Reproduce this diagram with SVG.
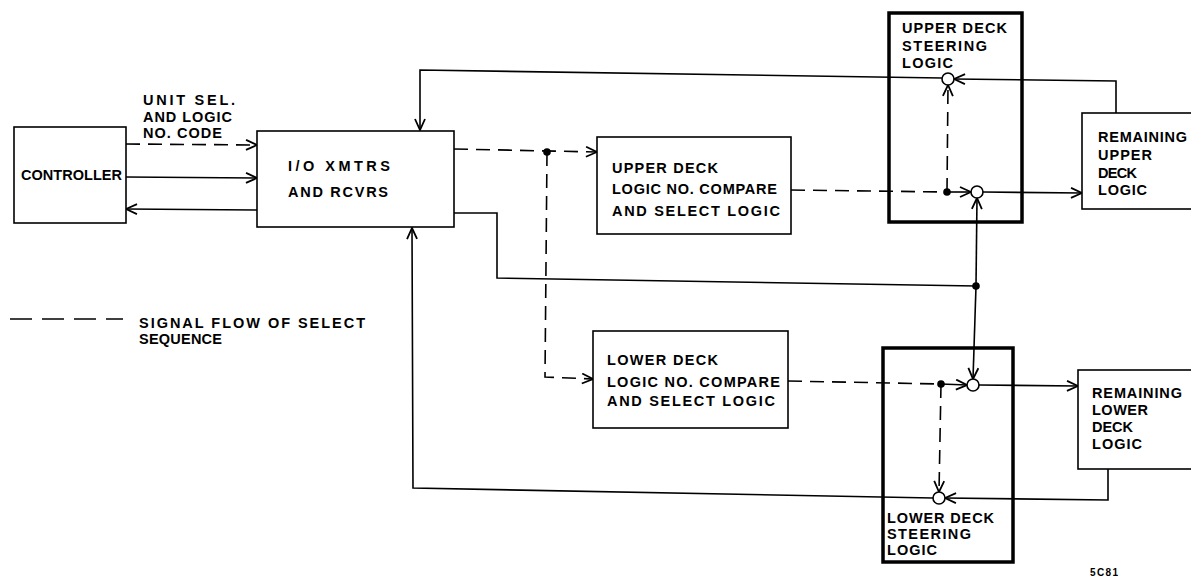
<svg xmlns="http://www.w3.org/2000/svg" width="1191" height="579" viewBox="0 0 1191 579">
<style>
.box{fill:#fff;stroke:#000;stroke-width:1.6}
.thick{fill:none;stroke:#000;stroke-width:3.5}
.ln{fill:none;stroke:#000;stroke-width:1.6}
.dash{fill:none;stroke:#000;stroke-width:1.6;stroke-dasharray:14 8}
.arr{marker-end:url(#ah)}
.dot{fill:#000}
.ring{fill:#fff;stroke:#000;stroke-width:1.6}
text{font-family:"Liberation Sans",Arial,sans-serif;font-weight:bold;font-size:14.5px;fill:#000}
</style>
<defs>
<marker id="ah" markerUnits="userSpaceOnUse" markerWidth="14" markerHeight="12" refX="12" refY="6" orient="auto">
<path d="M1,1 L12,6 L1,11" fill="none" stroke="#000" stroke-width="1.8"/>
</marker>
</defs>
<rect width="1191" height="579" fill="#fff"/>

<g id="connectors">
<path class="dash arr" d="M126,144 L257,145"/>
<path class="ln arr" d="M126,177 L257,178"/>
<path class="ln arr" d="M257,210 L126,209"/>
<path class="ln arr" d="M942,78 L420,70 L420,130"/>
<path class="ln arr" d="M1116,113 L1116,81 L954,79"/>
<path class="dash arr" d="M454,149 L597,152"/>
<path class="dash arr" d="M547,152 L545,377 L593,379"/>
<path class="dash" d="M791,190 L947,192"/>
<path class="ln arr" d="M947,192 L971,192"/>
<path class="dash arr" d="M947,192 L948,85"/>
<path class="ln arr" d="M983,192 L1082,193"/>
<path class="ln" d="M454,213 L497,213 L497,278 L976,286"/>
<path class="ln arr" d="M976,286 L977,198"/>
<path class="ln arr" d="M976,286 L973,379"/>
<path class="dash" d="M788,381 L941,384"/>
<path class="ln arr" d="M941,384 L967,385"/>
<path class="ln arr" d="M979,385 L1078,386"/>
<path class="dash arr" d="M941,384 L939,492"/>
<path class="ln arr" d="M1108,469 L1108,500 L945,498"/>
<path class="ln arr" d="M933,498 L413,488 L412,228"/>
<circle class="dot" cx="547" cy="152" r="3.8"/>
<circle class="dot" cx="947" cy="192" r="3.8"/>
<circle class="dot" cx="976" cy="286" r="3.8"/>
<circle class="dot" cx="941" cy="384" r="3.8"/>
<circle class="ring" cx="948" cy="79" r="6"/>
<circle class="ring" cx="977" cy="192" r="6"/>
<circle class="ring" cx="973" cy="385" r="6"/>
<circle class="ring" cx="939" cy="498" r="6"/>
</g>

<g id="label-unit-sel">
<text x="143" y="105" textLength="92" lengthAdjust="spacing">UNIT SEL.</text>
<text x="143" y="122" textLength="89" lengthAdjust="spacing">AND LOGIC</text>
<text x="143" y="138" textLength="79" lengthAdjust="spacing">NO. CODE</text>
</g>

<g id="controller">
<rect class="box" x="14" y="127" width="112" height="96"/>
<text x="21" y="180" textLength="101" lengthAdjust="spacing">CONTROLLER</text>
</g>

<g id="io">
<rect class="box" x="257" y="131" width="197" height="96"/>
<text x="288" y="171" textLength="102" lengthAdjust="spacing">I/O XMTRS</text>
<text x="288" y="197" textLength="100" lengthAdjust="spacing">AND RCVRS</text>
</g>

<g id="upper-compare">
<rect class="box" x="597" y="137" width="194" height="97"/>
<text x="612" y="173" textLength="106" lengthAdjust="spacing">UPPER DECK</text>
<text x="612" y="194" textLength="165" lengthAdjust="spacing">LOGIC NO. COMPARE</text>
<text x="612" y="216" textLength="168" lengthAdjust="spacing">AND SELECT LOGIC</text>
</g>

<g id="lower-compare">
<rect class="box" x="593" y="331" width="195" height="97"/>
<text x="607" y="365" textLength="111" lengthAdjust="spacing">LOWER DECK</text>
<text x="607" y="387" textLength="173" lengthAdjust="spacing">LOGIC NO. COMPARE</text>
<text x="607" y="406" textLength="168" lengthAdjust="spacing">AND SELECT LOGIC</text>
</g>

<g id="upper-steering">
<rect class="thick" x="889" y="13" width="133" height="209"/>
<text x="902" y="33" textLength="105" lengthAdjust="spacing">UPPER DECK</text>
<text x="902" y="51" textLength="85" lengthAdjust="spacing">STEERING</text>
<text x="902" y="68" textLength="51" lengthAdjust="spacing">LOGIC</text>
</g>

<g id="lower-steering">
<rect class="thick" x="883" y="348" width="130" height="214"/>
<text x="887" y="523" textLength="107" lengthAdjust="spacing">LOWER DECK</text>
<text x="887" y="539" textLength="84" lengthAdjust="spacing">STEERING</text>
<text x="887" y="555" textLength="50" lengthAdjust="spacing">LOGIC</text>
</g>

<g id="remaining-upper">
<rect class="box" x="1082" y="113" width="130" height="96"/>
<text x="1098" y="142" textLength="89" lengthAdjust="spacing">REMAINING</text>
<text x="1098" y="160" textLength="54" lengthAdjust="spacing">UPPER</text>
<text x="1098" y="178" textLength="39" lengthAdjust="spacing">DECK</text>
<text x="1098" y="195" textLength="49" lengthAdjust="spacing">LOGIC</text>
</g>

<g id="remaining-lower">
<rect class="box" x="1078" y="370" width="130" height="99"/>
<text x="1092" y="398" textLength="90" lengthAdjust="spacing">REMAINING</text>
<text x="1092" y="415" textLength="56" lengthAdjust="spacing">LOWER</text>
<text x="1092" y="432" textLength="41" lengthAdjust="spacing">DECK</text>
<text x="1092" y="449" textLength="50" lengthAdjust="spacing">LOGIC</text>
</g>

<g id="legend">
<line x1="10" y1="319" x2="123" y2="319" stroke="#000" stroke-width="1.6" stroke-dasharray="22 10"/>
<text x="139" y="328" textLength="226" lengthAdjust="spacing">SIGNAL FLOW OF SELECT</text>
<text x="139" y="344" textLength="83" lengthAdjust="spacing">SEQUENCE</text>
</g>

<g id="figure-number">
<text x="1090" y="576" style="font-size:10px" textLength="28" lengthAdjust="spacing">5C81</text>
</g>
</svg>
